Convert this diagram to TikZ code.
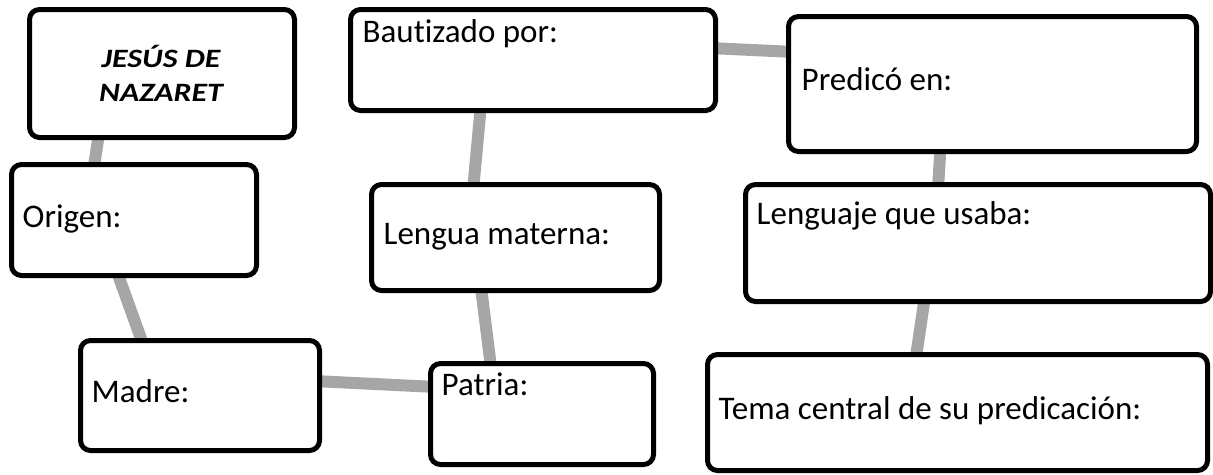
\documentclass[tikz,border=0pt]{standalone}
\usepackage{fontspec}
\setmainfont{Carlito}[Ligatures=NoCommon]
\newfontfamily\titlefont[FakeStretch=1.2,Ligatures=NoCommon]{Carlito}
\usetikzlibrary{calc,backgrounds}
\definecolor{linkgray}{HTML}{A6A6A6}
\tikzset{
  box/.style={draw=black, line width=5pt, rounded corners=10pt, fill=white, inner sep=0pt},
  link/.style={draw=linkgray, line width=12pt, shorten <=-6pt, shorten >=-6pt},
  lbl/.style={anchor=base west, inner sep=0pt, font=\fontsize{33}{39}\selectfont},
  ttl/.style={align=center, inner sep=0pt, font=\titlefont\bfseries\itshape\fontsize{26.5}{34}\selectfont}
}
\begin{document}
\begin{tikzpicture}[x=1pt, y=-1pt]
\useasboundingbox (0,0) rectangle (1213,474);
% boxes
\node[box, minimum width=265pt, minimum height=128pt] (jesus) at (162,73.5) {};
\node[box, minimum width=245pt, minimum height=111pt] (origen) at (134,220) {};
\node[box, minimum width=239pt, minimum height=110pt] (madre) at (200,395.5) {};
\node[box, minimum width=223pt, minimum height=101pt] (patria) at (542,414) {};
\node[box, minimum width=288pt, minimum height=106pt] (lengua) at (515.5,237.5) {};
\node[box, minimum width=365pt, minimum height=101pt] (bautizado) at (533,60) {};
\node[box, minimum width=408pt, minimum height=135pt] (predico) at (992.5,84) {};
\node[box, minimum width=465pt, minimum height=117pt] (lenguaje) at (978,243) {};
\node[box, minimum width=500pt, minimum height=116pt] (tema) at (957.5,412.5) {};
% texts
\node[ttl] (tjesus) at ($(jesus.center)+(-1,0)$) {JESÚS DE\\NAZARET};
\node[lbl] (torigen) at ($(origen.north west)+(13.5,65.5)$) {Origen:};
\node[lbl] (tmadre) at ($(madre.north west)+(13.5,64.5)$) {Madre:};
\node[lbl] (tpatria) at ($(patria.north west)+(13.5,34.5)$) {Patria:};
\node[lbl] (tlengua) at ($(lengua.north west)+(14.5,62.5)$) {Lengua materna:};
\node[lbl] (tbautizado) at ($(bautizado.north west)+(14.5,35.5)$) {Bautizado por:};
\node[lbl] (tpredico) at ($(predico.north west)+(15.5,76.5)$) {Predicó en:};
\node[lbl] (tlenguaje) at ($(lenguaje.north west)+(13.5,42.5)$) {Lenguaje que usaba:};
\node[lbl] (ttema) at ($(tema.north west)+(13.5,67.5)$) {Tema central de su predicación:};
% connectors
\begin{pgfonlayer}{background}
\draw[link] ($(jesus.south)+(-64,0)$) -- ($(origen.north)+(-39.4,0)$);
\draw[link] ($(origen.south)+(-14.8,0)$) -- ($(madre.north)+(-59.2,0)$);
\draw[link] ($(madre.east)+(0,-14.1)$) -- ($(patria.west)+(0,-27.4)$);
\draw[link] ($(lengua.south)+(-33.8,0)$) -- ($(patria.north)+(-51.8,0)$);
\draw[link] ($(bautizado.south)+(-52.8,0)$) -- ($(lengua.north)+(-41.7,0)$);
\draw[link] ($(bautizado.east)+(0,-11.6)$) -- ($(predico.west)+(0,-32.4)$);
\draw[link] ($(predico.south)+(-52.4,0)$) -- ($(lenguaje.north)+(-39.6,0)$);
\draw[link] ($(lenguaje.south)+(-54.2,0)$) -- ($(tema.north)+(-40.8,0)$);
\end{pgfonlayer}
\end{tikzpicture}
\end{document}
